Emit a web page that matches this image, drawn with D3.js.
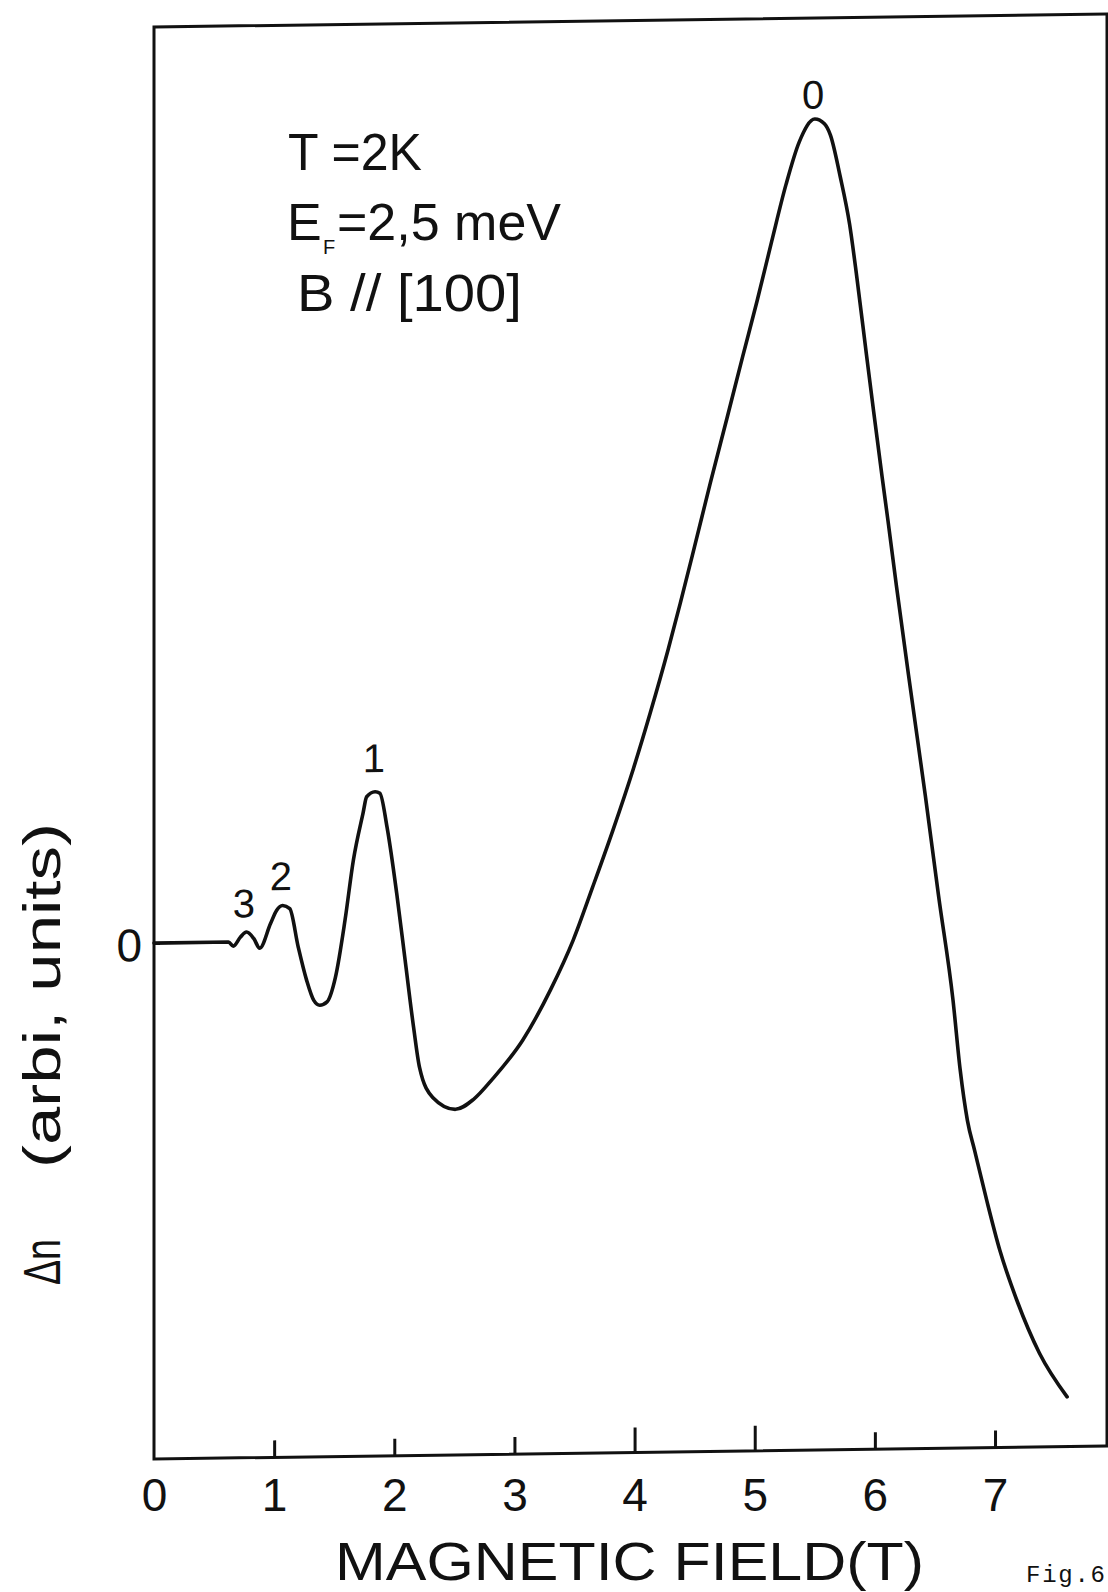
<!DOCTYPE html>
<html>
<head>
<meta charset="utf-8">
<script src="https://cdn.jsdelivr.net/npm/d3@7"></script>
<style>
  body { margin: 0; background: #fff; }
  svg { display: block; }
  text { font-family: "Liberation Sans", Arial, sans-serif; fill: #111; }
</style>
</head>
<body>
<svg id="chart"></svg>
<script>
// field values (T) and delta n (arb. units)
var fieldT = [0, 0.62, 0.66, 0.72, 0.77, 0.83, 0.88, 0.97, 1.02, 1.07, 1.13, 1.20, 1.27, 1.33, 1.38, 1.44,
    1.51, 1.59, 1.66, 1.74, 1.77, 1.84, 1.88, 1.94, 2.02, 2.09, 2.16, 2.21, 2.32, 2.51, 2.66, 2.82, 3.07,
    3.30, 3.49, 3.65, 3.82, 3.99, 4.13, 4.28, 4.38, 4.50, 4.63, 4.77, 4.90, 5.02, 5.14, 5.26, 5.37, 5.50,
    5.58, 5.63, 5.71, 5.79, 5.85, 5.93, 5.99, 6.06, 6.11, 6.18, 6.30, 6.42, 6.53, 6.65, 6.71, 6.77, 6.83, 6.93,
    7.04, 7.18, 7.37, 7.60];
var deltaN = [0, 0, -0.05, 0.06, 0.12, 0.04, -0.08, 0.22, 0.38, 0.44, 0.40, -0.07, -0.48, -0.73, -0.79, -0.75,
    -0.45, 0.25, 0.99, 1.56, 1.76, 1.82, 1.80, 1.38, 0.57, -0.25, -1.07, -1.57, -1.94, -2.09, -1.97, -1.72, -1.25,
    -0.64, -0.03, 0.61, 1.31, 2.06, 2.74, 3.52, 4.08, 4.78, 5.55, 6.35, 7.10, 7.78, 8.50, 9.20, 9.72, 10.0,
    9.94, 9.80, 9.30, 8.70, 8.05, 7.10, 6.40, 5.60, 5.05, 4.25, 2.95, 1.68, 0.45, -0.83, -1.69, -2.31, -2.68, -3.29,
    -3.91, -4.52, -5.18, -5.72];

var xTicks = [0, 1, 2, 3, 4, 5, 6, 7];
var yTicks = [0];

// Landau level labels above the peaks
var peakNames = ["0", "1", "2", "3"];
var peakField = [5.485, 1.83, 1.057, 0.749];
var peakLevel = [10.13, 2.06, 0.63, 0.30];

var width = 1108, height = 1592;
var plotLeft = 154, plotTop = 27, plotBottom = 1459, plotRight = 1107;

var svg = d3.select("#chart")
    .attr("width", width)
    .attr("height", height);

svg.append("rect").attr("width", width).attr("height", height).attr("fill", "#fff");

var x = d3.scaleLinear().domain([0, 7.932]).range([0, plotRight - plotLeft]);
var y = d3.scaleLinear().domain([-6.33, 11.24]).range([plotBottom, plotTop]);

// the scan is slightly skewed, so the whole plot frame leans a bit
var plot = svg.append("g")
    .attr("transform", "translate(" + plotLeft + ",0) skewY(-0.78)");

// frame
plot.append("rect")
    .attr("x", 0)
    .attr("y", plotTop)
    .attr("width", plotRight - plotLeft)
    .attr("height", plotBottom - plotTop)
    .attr("fill", "none")
    .attr("stroke", "#111")
    .attr("stroke-width", 3);

// tick marks point inward from the bottom axis
var xAxis = plot.append("g")
    .attr("transform", "translate(0," + plotBottom + ")")
    .call(d3.axisBottom(x).tickValues(xTicks.slice(1)).tickSizeInner(-18).tickSizeOuter(0).tickFormat(""));
xAxis.select(".domain").remove();
xAxis.selectAll(".tick line")
    .attr("stroke", "#111")
    .attr("stroke-width", 3)
    .attr("y2", function (d) { return (d === 4 || d === 5) ? -25 : -17; });

var yAxis = plot.append("g")
    .call(d3.axisLeft(y).tickValues(yTicks).tickSizeInner(-6).tickSizeOuter(0).tickPadding(12));
yAxis.select(".domain").remove();
yAxis.selectAll(".tick line").attr("stroke", "#111").attr("stroke-width", 3);
yAxis.selectAll(".tick text")
    .attr("font-size", 46)
    .attr("dy", "0.38em")
    .attr("fill", "#111")
    .style("font-family", "Liberation Sans, Arial, sans-serif");

// the curve
var pts = fieldT.map(function (d, i) { return [d, deltaN[i]]; });
var line = d3.line()
    .x(function (d) { return x(d[0]); })
    .y(function (d) { return y(d[1]); })
    .curve(d3.curveMonotoneX);

plot.append("path")
    .datum(pts)
    .attr("d", line)
    .attr("fill", "none")
    .attr("stroke", "#111")
    .attr("stroke-width", 3.6)
    .attr("stroke-linejoin", "round")
    .attr("stroke-linecap", "round");

// peak labels
plot.selectAll(".peak")
    .data(peakNames)
    .enter()
    .append("text")
    .attr("class", "peak")
    .attr("x", function (d, i) { return x(peakField[i]); })
    .attr("y", function (d, i) { return y(peakLevel[i]); })
    .attr("text-anchor", "middle")
    .attr("font-size", 40)
    .text(function (d) { return d; });

// x tick labels (not skewed)
var xLabels = svg.append("g")
    .attr("transform", "translate(" + plotLeft + "," + plotBottom + ")")
    .call(d3.axisBottom(x).tickValues(xTicks).tickSize(0).tickPadding(19));
xLabels.select(".domain").remove();
xLabels.selectAll(".tick text")
    .attr("font-size", 46)
    .style("font-family", "Liberation Sans, Arial, sans-serif")
    .attr("fill", "#111");

// axis titles
svg.append("text")
    .attr("x", 335)
    .attr("y", 1580)
    .attr("font-size", 54)
    .attr("textLength", 589)
    .attr("lengthAdjust", "spacingAndGlyphs")
    .text("MAGNETIC FIELD(T)");

svg.append("text")
    .attr("transform", "translate(60,1285) rotate(-90)")
    .attr("font-size", 52)
    .attr("textLength", 46)
    .attr("lengthAdjust", "spacingAndGlyphs")
    .text("Δn");

svg.append("text")
    .attr("transform", "translate(60,1168) rotate(-90)")
    .attr("font-size", 52)
    .attr("textLength", 345)
    .attr("lengthAdjust", "spacingAndGlyphs")
    .text("(arbi, units)");

// conditions
svg.append("text")
    .attr("x", 288).attr("y", 170)
    .attr("font-size", 52)
    .attr("textLength", 134)
    .attr("lengthAdjust", "spacingAndGlyphs")
    .text("T =2K");

var ef = svg.append("text")
    .attr("x", 287).attr("y", 240)
    .attr("font-size", 52);
ef.append("tspan").text("E");
ef.append("tspan").attr("x", 323).attr("dy", 14).attr("font-size", 20).text("F");
ef.append("tspan").attr("x", 337).attr("dy", -14).text("=2,5 meV");

svg.append("text")
    .attr("x", 297).attr("y", 311)
    .attr("font-size", 52)
    .attr("textLength", 225)
    .attr("lengthAdjust", "spacingAndGlyphs")
    .text("B // [100]");

svg.append("text")
    .attr("x", 1026).attr("y", 1582)
    .attr("font-size", 24)
    .attr("textLength", 79)
    .style("font-family", "Liberation Mono, Courier New, monospace")
    .text("Fig.6");
</script>
</body>
</html>
